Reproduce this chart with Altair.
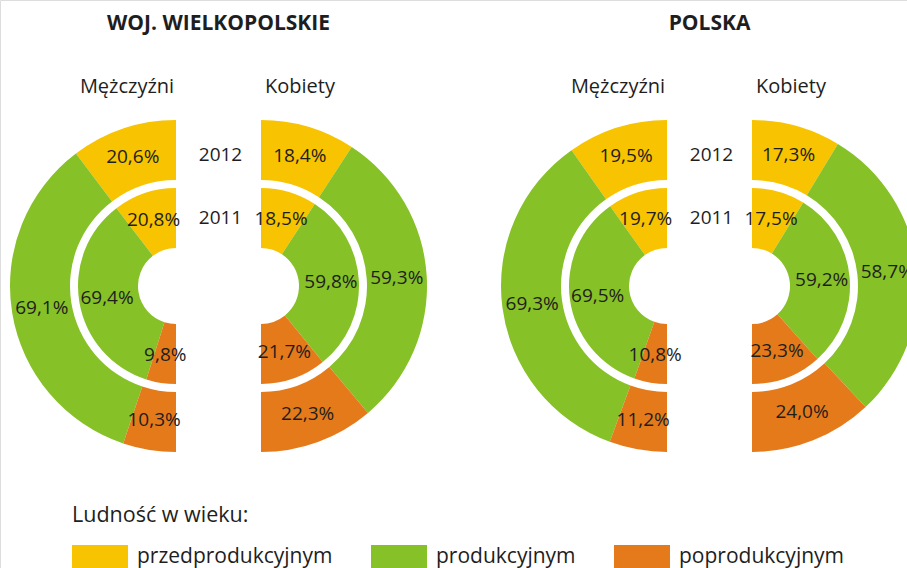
import math
import altair as alt
import pandas as pd

# ---------------- data ----------------
groups = ["WOJ. WIELKOPOLSKIE", "POLSKA"]
sexes = ["Mężczyźni", "Kobiety"]
years = ["2012", "2011"]
categories = ["przedprodukcyjnym", "produkcyjnym", "poprodukcyjnym"]
colors = ["#F8C300", "#86C127", "#E57A1B"]

wlkp_m_2012 = [20.6, 69.1, 10.3]
wlkp_k_2012 = [18.4, 59.3, 22.3]
wlkp_m_2011 = [20.8, 69.4, 9.8]
wlkp_k_2011 = [18.5, 59.8, 21.7]
pl_m_2012 = [19.5, 69.3, 11.2]
pl_k_2012 = [17.3, 58.7, 24.0]
pl_m_2011 = [19.7, 69.5, 10.8]
pl_k_2011 = [17.5, 59.2, 23.3]

series = {
    ("WOJ. WIELKOPOLSKIE", "Mężczyźni", "2012"): wlkp_m_2012,
    ("WOJ. WIELKOPOLSKIE", "Kobiety", "2012"): wlkp_k_2012,
    ("WOJ. WIELKOPOLSKIE", "Mężczyźni", "2011"): wlkp_m_2011,
    ("WOJ. WIELKOPOLSKIE", "Kobiety", "2011"): wlkp_k_2011,
    ("POLSKA", "Mężczyźni", "2012"): pl_m_2012,
    ("POLSKA", "Kobiety", "2012"): pl_k_2012,
    ("POLSKA", "Mężczyźni", "2011"): pl_m_2011,
    ("POLSKA", "Kobiety", "2011"): pl_k_2011,
}

# ---------------- layout ----------------
W, H = 907, 568
FONT = "Open Sans"
TXT = "#1e1e1e"
CY = 286
CX = {
    ("WOJ. WIELKOPOLSKIE", "Mężczyźni"): 176,
    ("WOJ. WIELKOPOLSKIE", "Kobiety"): 261,
    ("POLSKA", "Mężczyźni"): 667,
    ("POLSKA", "Kobiety"): 752,
}
RING = {"2012": (106, 166), "2011": (38, 98)}
LABEL_R = {"2012": 136, "2011": 70}

rows = []
for g in groups:
    for s in sexes:
        for yr in years:
            cum = 0.0
            for cat, v in zip(categories, series[(g, s, yr)]):
                if s == "Kobiety":
                    a0, a1 = cum, cum + v
                else:
                    a0, a1 = 200 - cum, 200 - cum - v
                rows.append(dict(grupa=g, plec=s, rok=yr, kategoria=cat,
                                 wartosc=v, start=a0, end=a1, mid=(a0 + a1) / 2,
                                 label=f"{v:.1f}".replace(".", ",") + "%",
                                 cx=CX[(g, s)], cy=CY))
                cum += v
df = pd.DataFrame(rows)

theta_scale = alt.Scale(domain=[0, 200], range=[0, 2 * math.pi])
color_scale = alt.Scale(domain=categories, range=colors)
legend = alt.Legend(
    title="Ludność w wieku:", orient="none", legendX=72, legendY=505,
    direction="horizontal", columns=3, columnPadding=38,
    symbolType="M-1,-0.43L1,-0.43L1,0.43L-1,0.43Z", symbolSize=3136,
    symbolStrokeWidth=0, symbolOpacity=1, labelOffset=9,
    labelFont=FONT, labelFontSize=21, labelColor=TXT, labelLimit=400,
    titleFont=FONT, titleFontSize=21.5, titleFontWeight="normal",
    titleColor=TXT, titlePadding=2, titleLimit=400,
)

X = alt.X("cx:Q", scale=None)
Y = alt.Y("cy:Q", scale=None)

layers = []
for yr in years:
    r_in, r_out = RING[yr]
    base = alt.Chart(df).transform_filter(alt.datum.rok == yr)
    layers.append(
        base.mark_arc(radius=r_out, radius2=r_in).encode(
            x=X, y=Y,
            theta=alt.Theta("start:Q", scale=theta_scale, stack=False),
            theta2="end:Q",
            color=alt.Color("kategoria:N", scale=color_scale, legend=legend),
        )
    )
for yr in years:
    base = alt.Chart(df).transform_filter(alt.datum.rok == yr)
    layers.append(
        base.mark_text(radius=LABEL_R[yr], font=FONT, fontSize=19, color=TXT,
                       align="center", baseline="middle").encode(
            x=X, y=Y,
            theta=alt.Theta("mid:Q", scale=theta_scale, stack=False),
            text="label:N",
        )
    )

# headers
title_rows, sex_rows, year_rows = [], [], []
for g in groups:
    mx = (CX[(g, "Mężczyźni")] + CX[(g, "Kobiety")]) / 2
    title_rows.append(dict(t=g, x=mx, y=24))
    sex_rows.append(dict(t="Mężczyźni", x=CX[(g, "Mężczyźni")] - 49, y=87))
    sex_rows.append(dict(t="Kobiety", x=CX[(g, "Kobiety")] + 39, y=87))
    year_rows.append(dict(t="2012", x=mx + 2, y=155))
    year_rows.append(dict(t="2011", x=mx + 2, y=218))

def text_layer(rows_, size, weight):
    return alt.Chart(pd.DataFrame(rows_)).mark_text(
        font=FONT, fontSize=size, fontWeight=weight, color=TXT,
        align="center", baseline="middle").encode(
        x=alt.X("x:Q", scale=None), y=alt.Y("y:Q", scale=None), text="t:N")

layers.append(text_layer(title_rows, 21, "bold"))
layers.append(text_layer(sex_rows, 20, "normal"))
layers.append(text_layer(year_rows, 19, "normal"))

chart = alt.layer(*layers).properties(
    width=W, height=H, padding=0,
    autosize=alt.AutoSizeParams(type="none"),
).configure_view(strokeWidth=0).configure(background="white")

chart.save("out.html", embed_options={"renderer": "svg", "actions": False})
